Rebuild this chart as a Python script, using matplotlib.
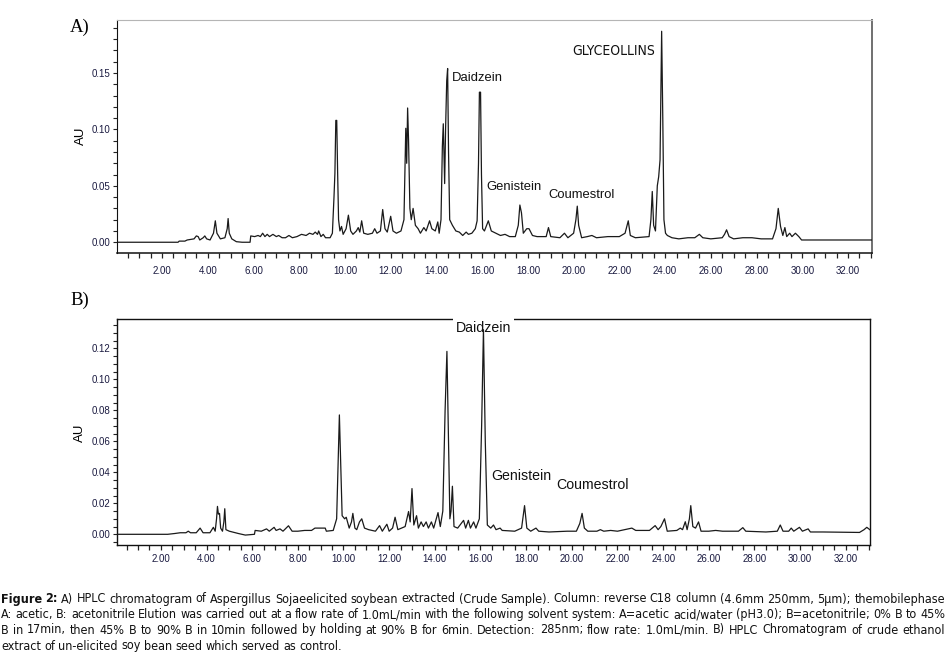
import matplotlib
matplotlib.use('Agg')
import matplotlib.pyplot as plt
from matplotlib import font_manager
from matplotlib.font_manager import FontProperties
from matplotlib.ticker import MultipleLocator, FixedLocator

plt.rcParams['font.family'] = ['Liberation Sans', 'DejaVu Sans']

# ---- data (time in min, absorbance in AU) ----
top_time = [0.0, 2.70, 2.75, 3.00, 3.10, 3.40, 3.50, 3.58, 3.65, 3.80, 3.87, 3.95, 4.10, 4.25,
            4.33, 4.40, 4.55, 4.75, 4.85, 4.89, 4.94, 5.05, 5.25, 5.50, 5.85, 5.88, 6.05, 6.20,
            6.30, 6.40, 6.50, 6.60, 6.70, 6.85, 7.00, 7.10, 7.25, 7.40, 7.55, 7.70, 7.90, 8.10,
            8.30, 8.45, 8.60, 8.70, 8.80, 8.85, 8.95, 9.05, 9.15, 9.35, 9.45, 9.52, 9.56, 9.60,
            9.64, 9.68, 9.72, 9.78, 9.85, 9.92, 10.05, 10.15, 10.25, 10.35, 10.50, 10.58, 10.65,
            10.73, 10.82, 11.00, 11.20, 11.30, 11.40, 11.55, 11.65, 11.75, 11.85, 12.00, 12.10,
            12.25, 12.45, 12.58, 12.66, 12.70, 12.74, 12.78, 12.84, 12.90, 12.98, 13.08, 13.20,
            13.30, 13.45, 13.55, 13.70, 13.80, 13.95, 14.06, 14.12, 14.20, 14.26, 14.30, 14.36,
            14.40, 14.45, 14.49, 14.53, 14.58, 14.70, 14.85, 15.00, 15.15, 15.30, 15.40, 15.55,
            15.70, 15.78, 15.84, 15.88, 15.93, 15.97, 16.02, 16.10, 16.27, 16.40, 16.60, 16.80,
            17.00, 17.20, 17.45, 17.58, 17.65, 17.72, 17.80, 17.95, 18.05, 18.20, 18.40, 18.80,
            18.90, 19.00, 19.40, 19.60, 19.75, 20.00, 20.10, 20.16, 20.22, 20.35, 20.60, 20.80,
            21.00, 21.50, 22.00, 22.25, 22.39, 22.48, 22.70, 23.30, 23.38, 23.44, 23.50, 23.58,
            23.66, 23.72, 23.78, 23.85, 23.90, 23.95, 24.02, 24.10, 24.30, 24.60, 25.00, 25.30,
            25.50, 25.65, 26.00, 26.50, 26.60, 26.69, 26.80, 27.00, 27.40, 27.80, 28.20, 28.70,
            28.85, 28.95, 29.05, 29.15, 29.24, 29.32, 29.45, 29.55, 29.70, 29.85, 29.97, 33.05]
top_au = [0.000, 0.000, 0.001, 0.001, 0.002, 0.003, 0.0056, 0.005, 0.002, 0.004, 0.0056, 0.003,
          0.002, 0.008, 0.019, 0.008, 0.003, 0.004, 0.012, 0.021, 0.008, 0.003, 0.0005, 0.000,
          0.000, 0.0056, 0.005, 0.006, 0.005, 0.008, 0.005, 0.007, 0.005, 0.007, 0.005, 0.006,
          0.004, 0.004, 0.006, 0.004, 0.005, 0.007, 0.006, 0.008, 0.007, 0.009, 0.007, 0.010,
          0.005, 0.007, 0.004, 0.004, 0.008, 0.040, 0.061, 0.108, 0.108, 0.061, 0.020, 0.010,
          0.014, 0.007, 0.012, 0.024, 0.010, 0.007, 0.010, 0.013, 0.009, 0.019, 0.008, 0.007,
          0.008, 0.012, 0.008, 0.010, 0.029, 0.012, 0.009, 0.023, 0.010, 0.008, 0.010, 0.020,
          0.101, 0.070, 0.119, 0.091, 0.030, 0.020, 0.030, 0.015, 0.012, 0.008, 0.013, 0.010,
          0.019, 0.012, 0.010, 0.018, 0.008, 0.020, 0.085, 0.105, 0.052, 0.100, 0.143, 0.154,
          0.080, 0.020, 0.015, 0.010, 0.009, 0.006, 0.009, 0.007, 0.008, 0.012, 0.019, 0.070,
          0.133, 0.133, 0.060, 0.012, 0.010, 0.019, 0.010, 0.008, 0.006, 0.007, 0.005, 0.005,
          0.015, 0.033, 0.026, 0.008, 0.012, 0.012, 0.006, 0.005, 0.005, 0.013, 0.005, 0.004,
          0.008, 0.004, 0.008, 0.020, 0.032, 0.015, 0.004, 0.005, 0.006, 0.004, 0.005, 0.005,
          0.008, 0.019, 0.006, 0.004, 0.005, 0.020, 0.045, 0.015, 0.010, 0.050, 0.058, 0.073,
          0.187, 0.110, 0.020, 0.008, 0.006, 0.004, 0.003, 0.004, 0.004, 0.007, 0.004, 0.003,
          0.004, 0.007, 0.011, 0.005, 0.003, 0.004, 0.004, 0.003, 0.003, 0.012, 0.030, 0.014,
          0.006, 0.013, 0.005, 0.008, 0.005, 0.008, 0.005, 0.002, 0.002]

bottom_time = [0.0, 2.30, 2.60, 2.85, 3.10, 3.20, 3.30, 3.55, 3.72, 3.85, 4.15, 4.30, 4.38, 4.44,
               4.48, 4.52, 4.57, 4.62, 4.70, 4.76, 4.80, 4.85, 5.00, 5.40, 5.70, 6.10, 6.13, 6.40,
               6.63, 6.75, 6.96, 7.05, 7.22, 7.35, 7.59, 7.75, 8.00, 8.30, 8.60, 8.75, 9.00, 9.20,
               9.25, 9.55, 9.70, 9.77, 9.82, 9.87, 9.94, 10.05, 10.12, 10.25, 10.35, 10.41, 10.50,
               10.58, 10.70, 10.80, 10.92, 11.10, 11.40, 11.58, 11.70, 11.90, 12.00, 12.15, 12.26,
               12.38, 12.70, 12.85, 12.92, 13.00, 13.08, 13.20, 13.28, 13.40, 13.50, 13.62, 13.72,
               13.85, 13.95, 14.14, 14.24, 14.35, 14.45, 14.53, 14.60, 14.66, 14.71, 14.77, 14.84,
               15.00, 15.26, 15.35, 15.47, 15.56, 15.70, 15.80, 15.95, 16.05, 16.13, 16.21, 16.30,
               16.45, 16.57, 16.68, 16.86, 16.95, 17.50, 17.80, 17.93, 18.03, 18.20, 18.43, 18.55,
               19.00, 19.80, 20.20, 20.35, 20.45, 20.55, 20.70, 21.10, 21.25, 21.40, 21.70, 22.00,
               22.63, 22.80, 23.40, 23.65, 23.78, 23.90, 24.06, 24.18, 24.60, 24.75, 24.85, 24.97,
               25.05, 25.15, 25.21, 25.30, 25.42, 25.55, 25.66, 26.00, 26.30, 26.60, 27.30, 27.49,
               27.62, 28.50, 29.00, 29.13, 29.25, 29.50, 29.61, 29.72, 29.97, 30.10, 30.35, 30.45,
               31.00, 32.60, 32.80, 32.92, 33.05]
bottom_au = [0.000, 0.000, 0.0005, 0.001, 0.001, 0.002, 0.001, 0.001, 0.004, 0.001, 0.001,
             0.0045, 0.002, 0.010, 0.018, 0.013, 0.0135, 0.004, 0.002, 0.008, 0.0165, 0.003,
             0.002, 0.0005, -0.0005, 0.000, 0.0025, 0.002, 0.0035, 0.002, 0.0045, 0.0025, 0.0035,
             0.002, 0.0055, 0.002, 0.002, 0.0025, 0.0025, 0.004, 0.004, 0.004, 0.002, 0.0025,
             0.010, 0.050, 0.077, 0.050, 0.012, 0.010, 0.011, 0.004, 0.008, 0.0135, 0.004, 0.003,
             0.008, 0.010, 0.004, 0.003, 0.002, 0.0056, 0.002, 0.0065, 0.002, 0.004, 0.011, 0.003,
             0.005, 0.0147, 0.008, 0.0295, 0.006, 0.012, 0.004, 0.008, 0.005, 0.008, 0.004, 0.008,
             0.004, 0.014, 0.005, 0.015, 0.080, 0.118, 0.060, 0.010, 0.015, 0.031, 0.005, 0.004,
             0.009, 0.004, 0.009, 0.004, 0.008, 0.004, 0.010, 0.070, 0.132, 0.060, 0.006, 0.004,
             0.006, 0.003, 0.004, 0.0025, 0.002, 0.004, 0.0185, 0.004, 0.002, 0.004, 0.002,
             0.0015, 0.002, 0.002, 0.007, 0.0135, 0.004, 0.002, 0.002, 0.003, 0.002, 0.0025,
             0.002, 0.004, 0.0025, 0.0025, 0.0056, 0.003, 0.005, 0.010, 0.002, 0.0025, 0.004,
             0.003, 0.0081, 0.003, 0.010, 0.0185, 0.005, 0.004, 0.008, 0.002, 0.002, 0.0025,
             0.002, 0.002, 0.0043, 0.002, 0.0015, 0.002, 0.006, 0.002, 0.002, 0.004, 0.002,
             0.0045, 0.002, 0.0035, 0.0015, 0.0015, 0.0012, 0.003, 0.0045, 0.003]

# peak labels: (text, time of left edge, AU of centre)
top_labels = [('Daidzein', 14.68, 0.1455), ('Genistein', 16.17, 0.0494),
              ('Coumestrol', 18.89, 0.0417), ('GLYCEOLLINS', 19.96, 0.1693)]
bottom_labels = [('Daidzein', 14.92, 0.1334), ('Genistein', 16.47, 0.0373),
                 ('Coumestrol', 19.31, 0.0316)]

top_yticks = [0.00, 0.05, 0.10, 0.15]
bottom_yticks = [0.00, 0.02, 0.04, 0.06, 0.08, 0.10, 0.12]
xticks = list(range(2, 33, 2))

caption_lines = [
    "Figure 2: A) HPLC chromatogram of Aspergillus Sojaeelicited soybean extracted (Crude Sample). "
    "Column: reverse C18 column (4.6mm 250mm, 5\u03bcm); themobilephase",
    "A: acetic,  B: acetonitrile Elution was carried out at a flow rate of 1.0mL/min with the following "
    "solvent system: A=acetic acid/water (pH3.0); B=acetonitrile; 0% B to 45%",
    "B in 17min, then 45% B to 90% B in 10min followed by holding at 90% B for 6min. Detection: 285nm; "
    "flow rate: 1.0mL/min. B) HPLC Chromatogram of crude ethanol",
    "extract of un-elicited soy bean seed which served as control.",
]

W, H = 947, 657


def find_narrow(bold):
    # look for an installed condensed sans face (caption uses Arial Narrow)
    best = None
    for f in font_manager.fontManager.ttflist:
        nm = f.name
        cond = ('Narrow' in nm or 'Condensed' in nm or 'condensed' in str(f.stretch))
        if not cond or 'Mono' in nm or 'Serif' in nm or f.style != 'normal':
            continue
        w = f.weight if isinstance(f.weight, int) else (700 if 'bold' in str(f.weight) else 400)
        if (w >= 600) != bold or 'Light' in nm or 'Black' in nm:
            continue
        rank = 0 if 'Liberation' in nm else 1 if 'Arial' in nm else 2 if 'Sans' in nm else 3
        if best is None or rank < best[0]:
            best = (rank, f.fname)
    return best[1] if best else None


nar_reg = find_narrow(False)
nar_bold = find_narrow(True)
if nar_reg:
    cap_reg = FontProperties(fname=nar_reg)
    cap_bold = FontProperties(fname=nar_bold) if nar_bold else FontProperties(fname=nar_reg, weight='bold')
else:
    cap_reg = FontProperties(family='Liberation Sans')
    cap_bold = FontProperties(family='Liberation Sans', weight='bold')

fig = plt.figure(figsize=(W / 100, H / 100), dpi=100)
axA = fig.add_axes([117 / W, 1 - 253.3 / H, 755 / W, 233.3 / H])
axB = fig.add_axes([117 / W, 1 - 545 / H, 753 / W, 225.7 / H])

tick_col = '#1a1a40'
line_col = '#1a1a1a'


def style_axis(ax, xlim, ylim, yticks, yminor):
    ax.set_xlim(*xlim)
    ax.set_ylim(*ylim)
    ax.xaxis.set_major_locator(FixedLocator(xticks))
    ax.xaxis.set_minor_locator(MultipleLocator(0.5))
    ax.set_xticklabels(['%.2f' % v for v in xticks])
    ax.yaxis.set_major_locator(FixedLocator(yticks))
    ax.yaxis.set_minor_locator(MultipleLocator(yminor))
    ax.set_yticklabels(['%.2f' % v for v in yticks])
    ax.tick_params(axis='x', which='both', direction='out', length=3.6, width=0.9,
                   color='#222222', labelsize=7, labelcolor=tick_col)
    ax.tick_params(axis='y', which='both', direction='out', length=2.6, width=0.8,
                   color='#222222', labelsize=7, labelcolor=tick_col, pad=2)


# ---- panel A ----
axA.plot(top_time, top_au, color=line_col, lw=0.9, zorder=4)
style_axis(axA, (0.03, 33.05), (-0.0098, 0.197), top_yticks, 0.01)
axA.tick_params(axis='x', pad=5.5)
axA.spines['left'].set_color('#111111')
axA.spines['bottom'].set_color('#111111')
axA.spines['bottom'].set_linewidth(1.1)
axA.spines['top'].set_color('#b5b5b5')
axA.spines['right'].set_color('#707070')
axA.spines['right'].set_linewidth(1.4)
for txt, t, au in top_labels:
    if txt == 'GLYCEOLLINS':
        if nar_reg:
            fp = FontProperties(fname=nar_reg, size=10)
        else:
            fp = FontProperties(family='Liberation Sans', size=8.6)
        axA.text(t, au, txt, ha='left', va='center', fontproperties=fp, color='#111111')
    else:
        axA.text(t, au, txt, ha='left', va='center', fontsize=9.4, color='#111111')

# ---- panel B ----
axB.plot(bottom_time, bottom_au, color=line_col, lw=0.9, zorder=4)
style_axis(axB, (0.08, 33.06), (-0.0069, 0.1387), bottom_yticks, 0.005)
axB.tick_params(axis='x', pad=3)
for s in axB.spines.values():
    s.set_color('#111111')
    s.set_linewidth(1.0)
for txt, t, au in bottom_labels:
    if txt == 'Daidzein':
        axB.text(t, au, txt, ha='left', va='center', fontsize=10.2, color='#111111',
                 zorder=3, clip_on=False,
                 bbox=dict(facecolor='white', edgecolor='none', pad=2))
    else:
        axB.text(t, au, txt, ha='left', va='center', fontsize=10.2, color='#111111')

# panel letters and axis titles
fig.text(70 / W, 1 - 27 / H, 'A)', family='Liberation Serif', fontsize=13.5,
         ha='left', va='center')
fig.text(70 / W, 1 - 300 / H, 'B)', family='Liberation Serif', fontsize=13.5,
         ha='left', va='center')
fig.text(80.5 / W, 1 - 136 / H, 'AU', rotation=90, fontsize=9.5, ha='center', va='center')
fig.text(79.5 / W, 1 - 432.5 / H, 'AU', rotation=90, fontsize=9.5, ha='center', va='center')

# ---- justified caption ----
renderer = fig.canvas.get_renderer()
cap_left, cap_right = 1, 945
cap_y = [599, 614.5, 630, 646]
base = 8.0
rows = []
for i, line in enumerate(caption_lines):
    words = line.split()
    texts = []
    for j, w in enumerate(words):
        fp = (cap_bold if (i == 0 and j < 2) else cap_reg).copy()
        fp.set_size(base)
        texts.append(fig.text(0, 1 - cap_y[i] / H, w, fontproperties=fp, ha='left',
                              va='center', color='#111111'))
    rows.append(texts)

# pick one font size so that the longest justified line has ordinary word spacing
space = base * 1.389 * 0.26
scale = 10.0
for texts in rows[:-1]:
    natural = sum(t.get_window_extent(renderer).width for t in texts) + space * (len(texts) - 1)
    scale = min(scale, (cap_right - cap_left) / natural)
size = base * scale
if nar_reg:
    size = min(size, 9.3)
for i, texts in enumerate(rows):
    for t in texts:
        t.set_fontsize(size)
    widths = [t.get_window_extent(renderer).width for t in texts]
    if i < len(rows) - 1:
        gap = (cap_right - cap_left - sum(widths)) / (len(texts) - 1)
    else:
        gap = size * 1.389 * 0.26
    x = cap_left
    for t, wd in zip(texts, widths):
        t.set_x(x / W)
        x += wd + gap

fig.savefig('out.png', dpi=100)
